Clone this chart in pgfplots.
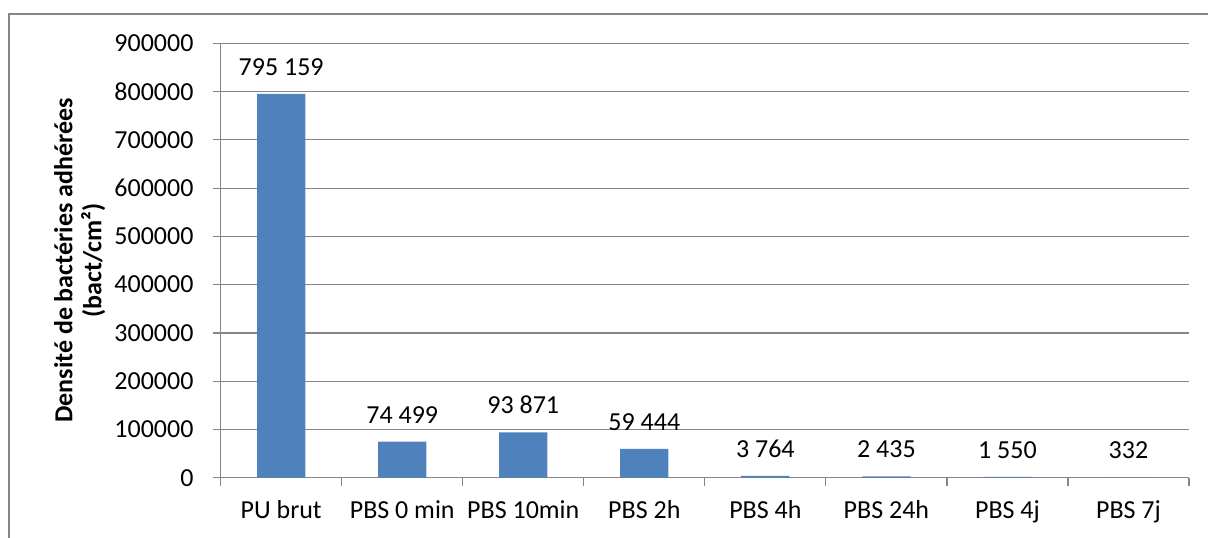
\documentclass[border=0pt]{standalone}
\usepackage{fontspec}
\setmainfont{Carlito}
\usepackage{pgfplots}
\pgfplotsset{compat=1.18}
\usetikzlibrary{calc}
\definecolor{barblue}{HTML}{4F81BD}
\definecolor{axisgray}{HTML}{868686}
\begin{document}
\fontsize{13}{14.5}\selectfont
\begin{tikzpicture}
\begin{axis}[
  scale only axis,
  width=484.5pt, height=217.3pt,
  ybar, bar width=24.15pt,
  xmin=-0.5, xmax=7.5, ymin=0, ymax=900000,
  ytick={0,100000,...,900000},
  scaled y ticks=false,
  yticklabel style={/pgf/number format/fixed, /pgf/number format/1000 sep={},
    anchor=east, inner sep=0pt, xshift=-9.4pt},
  /pgf/number format/assume math mode=true,
  xtick={0,...,7},
  xticklabels={PU brut, PBS 0 min, PBS 10min, PBS 2h, PBS 4h, PBS 24h, PBS 4j, PBS 7j},
  xticklabel style={anchor=base, inner sep=0pt, yshift=-16.5pt},
  minor xtick={-0.5,0.5,...,7.5},
  major x tick style={draw=none},
  minor x tick style={axisgray, line width=0.6pt},
  tick align=outside,
  major tick length=4pt, minor tick length=4pt,
  tick style={axisgray, line width=0.6pt},
  axis x line*=bottom, axis y line*=left,
  axis line style={axisgray, line width=0.6pt},
  ymajorgrids, grid style={axisgray, line width=0.6pt},
  point meta=explicit symbolic,
  nodes near coords,
  every node near coord/.append style={inner sep=0pt, yshift=9pt, text=black},
  clip=false,
]
\addplot[fill=barblue, draw=none] coordinates {
  (0,795159) [795 159]
  (1,74499) [74 499]
  (2,93871) [93 871]
  (3,59444) [59 444]
  (4,3764) [3 764]
  (5,2435) [2 435]
  (6,1550) [1 550]
  (7,332) [332]
};
\coordinate (SW) at (rel axis cs:0,0);
\coordinate (NE) at (rel axis cs:1,1);
\end{axis}
\pgfresetboundingbox
\path[use as bounding box] ($(SW)+(-110.4pt,-30pt)$) rectangle ($(NE)+(9.5pt,21.7pt)$);
\draw[axisgray, line width=1pt] ($(SW)+(-105.9pt,-40pt)$) -- ($(SW|-NE)+(-105.9pt,14.7pt)$) -- ($(NE)+(20pt,14.7pt)$);
\node[rotate=90, align=center, font=\bfseries, anchor=center]
  at ($(SW)!0.5!(SW|-NE)+(-70.5pt,0)$) {Densité de bactéries adhérées\\(bact/cm²)};
\end{tikzpicture}
\end{document}
